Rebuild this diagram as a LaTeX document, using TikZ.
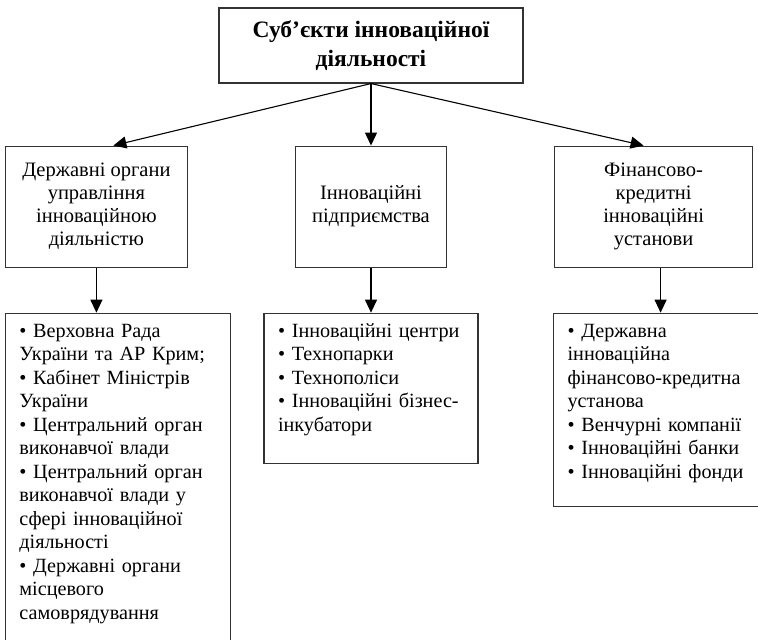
\documentclass[tikz,border=0pt]{standalone}
\usepackage{fontspec}
\setmainfont{Liberation Serif}
\usetikzlibrary{arrows.meta,positioning}
\tikzset{
  subj/.style={draw=black!80, line width=1.1pt, align=center, minimum width=304pt,
               minimum height=75pt, font=\fontsize{23.5}{28.5}\selectfont\bfseries},
  grp/.style={draw=black!80, line width=1.1pt, align=center, minimum height=121pt,
              inner sep=0pt, font=\fontsize{20.5}{23}\selectfont},
  % lists of members, text from the top
  lst/.style={draw=black!80, line width=1.1pt, align=left, inner xsep=14pt, inner ysep=0pt,
              text width=#1, text height=24pt, font=\fontsize{20.2}{23.5}\selectfont},
  ar/.style={-{Triangle[length=13pt,width=12pt]}, line width=1.1pt, draw=black},
}

\begin{document}
\begin{tikzpicture}
    \useasboundingbox (0,0) rectangle (758pt,-640pt);
    \clip (0,0) rectangle (758pt,-640pt);
    \node[subj] (subj) at (371pt,-45.5pt) {Суб’єкти інноваційної\\діяльності};
    \node[grp, minimum width=151pt, below=62pt of subj] (pidpr) {Інноваційні\\підприємства};
    \node[grp, minimum width=182pt, left=107pt of pidpr] (derzh) {Державні органи\\управління\\інноваційною\\діяльністю};
    \node[grp, minimum width=198pt, right=107pt of pidpr] (fin) {Фінансово-\\кредитні\\інноваційні\\установи};
    \draw[ar] (subj.south)--([xshift=17pt]derzh.north);
    \draw[ar] (subj.south)--(pidpr.north);
    \draw[ar] (subj.south)--([xshift=-10pt]fin.north);
    \node[lst=197pt, text depth=330pt, below right=45pt and 0pt of derzh.south west] (derzhlst)
      {• Верховна Рада\\України та АР Крим;\\• Кабінет Міністрів\\України\\• Центральний орган\\виконавчої влади\\• Центральний орган\\виконавчої влади у\\сфері інноваційної\\діяльності\\• Державні органи\\місцевого\\самоврядування};
    \node[lst=186pt, text depth=126pt, below=45pt of pidpr] (pidprlst)
      {• Інноваційні центри\\• Технопарки\\• Технополіси\\• Інноваційні бізнес-\\інкубатори};
    \node[lst=192pt, text depth=169pt, below right=45pt and -1pt of fin.south west] (finlst)
      {• Державна\\інноваційна\\фінансово-кредитна\\установа\\• Венчурні компанії\\• Інноваційні банки\\• Інноваційні фонди};
    \draw[ar] (derzh.south)--(derzh.south |- derzhlst.north);
    \draw[ar] (pidpr.south)--(pidpr.south |- pidprlst.north);
    \draw[ar] ([xshift=7pt]fin.south)--([xshift=7pt]fin.south |- finlst.north);
  \end{tikzpicture}
\end{document}
